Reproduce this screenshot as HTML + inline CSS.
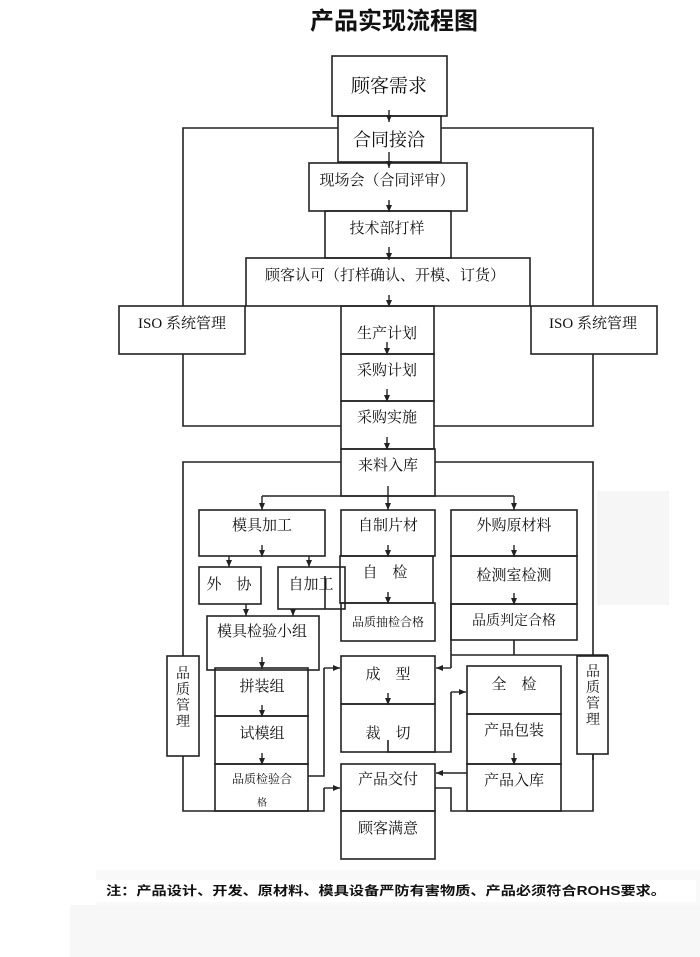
<!DOCTYPE html>
<html><head><meta charset="utf-8"><style>
html,body{margin:0;padding:0;background:#fff;}
svg{display:block;}
text{font-family:"Liberation Serif","Noto Serif CJK SC",serif;fill:#111;}
</style></head><body>
<svg width="700" height="957" viewBox="0 0 700 957" xmlns="http://www.w3.org/2000/svg">
<defs>
<marker id="a" markerWidth="8" markerHeight="8" refX="7" refY="4" orient="auto" markerUnits="userSpaceOnUse"><path d="M0,1 L7,4 L0,7 Z" fill="#222"/></marker>
</defs>
<rect x="597" y="491" width="72" height="114" fill="#f6f6f6"/>
<rect x="70" y="905" width="630" height="70" fill="#f7f7f7"/>
<rect x="96" y="870" width="604" height="35" fill="#f9f9f9"/>
<rect x="86" y="880" width="610" height="22" fill="#fff"/>
<text x="394" y="29" font-size="24" font-weight="bold" text-anchor="middle" style="font-family:'Liberation Sans','Noto Sans CJK SC',sans-serif">产品实现流程图</text>
<g fill="none" stroke="#222" stroke-width="1.6">
<!-- boxes -->
<rect x="332" y="56" width="115" height="60"/>
<rect x="338" y="116" width="103" height="46"/>
<rect x="309" y="163" width="158" height="48"/>
<rect x="325" y="211" width="126" height="47"/>
<rect x="246" y="258" width="284" height="48"/>
<rect x="119" y="306" width="126" height="48"/>
<rect x="531" y="306" width="126" height="48"/>
<rect x="341" y="306" width="93" height="48"/>
<rect x="341" y="354" width="93" height="47"/>
<rect x="341" y="401" width="93" height="48"/>
<rect x="341" y="449" width="94" height="47"/>
<rect x="199" y="510" width="126" height="46"/>
<rect x="341" y="510" width="94" height="46"/>
<rect x="340" y="556" width="93" height="47"/>
<rect x="341" y="603" width="94" height="38"/>
<rect x="451" y="510" width="126" height="46"/>
<rect x="451" y="556" width="126" height="48"/>
<rect x="451" y="604" width="126" height="36"/>
<rect x="199" y="567" width="62" height="37"/>
<rect x="278" y="567" width="67" height="42"/>
<rect x="207" y="616" width="112" height="54"/>
<rect x="215" y="668" width="93" height="48"/>
<rect x="215" y="716" width="93" height="48"/>
<rect x="215" y="764" width="93" height="47"/>
<rect x="341" y="656" width="94" height="48"/>
<rect x="341" y="704" width="94" height="48"/>
<rect x="467" y="666" width="94" height="48"/>
<rect x="467" y="714" width="94" height="50"/>
<rect x="467" y="764" width="94" height="47"/>
<rect x="341" y="764" width="94" height="47"/>
<rect x="341" y="811" width="94" height="48"/>
<rect x="167" y="656" width="32" height="100"/>
<rect x="577" y="656" width="31" height="98"/>
<!-- ISO loops -->
<polyline points="338,128 183,128 183,306"/>
<polyline points="441,128 593,128 593,306"/>
<polyline points="183,354 183,426 341,426"/>
<polyline points="593,354 593,426 434,426"/>
<!-- quality loops -->
<polyline points="341,462 183,462 183,656"/>
<polyline points="435,462 593,462 593,656"/>
<polyline points="183,756 183,811 324,811 324,788"/>
<polyline points="593,754 593,811 451,811 451,788 435,788"/>
<line x1="325" y1="576" x2="325" y2="609"/>
<polyline points="451,604 451,668"/>
<polyline points="451,655 608,655"/>
<line x1="514" y1="640" x2="514" y2="655"/>
<polyline points="308,776 324,776 324,668"/>
<polyline points="388,740 388,752 451,752 451,692"/>
<line x1="262" y1="496" x2="514" y2="496"/>
<line x1="593" y1="754" x2="593" y2="760"/>
</g>
<g stroke="#222" stroke-width="1.4" marker-end="url(#a)">
<line x1="389" y1="110" x2="389" y2="122"/>
<line x1="389" y1="152" x2="389" y2="168"/>
<line x1="389" y1="200" x2="389" y2="212"/>
<line x1="389" y1="247" x2="389" y2="260"/>
<line x1="389" y1="295" x2="389" y2="307"/>
<line x1="387" y1="342" x2="387" y2="355"/>
<line x1="387" y1="389" x2="387" y2="402"/>
<line x1="387" y1="437" x2="387" y2="450"/>
<line x1="388" y1="486" x2="388" y2="510"/>
<line x1="262" y1="496" x2="262" y2="510"/>
<line x1="514" y1="496" x2="514" y2="510"/>
<line x1="262" y1="545" x2="262" y2="557"/>
<line x1="229" y1="556" x2="229" y2="567"/>
<line x1="309" y1="556" x2="309" y2="567"/>
<line x1="388" y1="545" x2="388" y2="557"/>
<line x1="388" y1="592" x2="388" y2="604"/>
<line x1="514" y1="545" x2="514" y2="557"/>
<line x1="514" y1="593" x2="514" y2="605"/>
<line x1="246" y1="604" x2="246" y2="616"/>
<line x1="293" y1="609" x2="293" y2="616"/>
<line x1="262" y1="657" x2="262" y2="669"/>
<line x1="262" y1="705" x2="262" y2="717"/>
<line x1="262" y1="753" x2="262" y2="765"/>
<line x1="388" y1="693" x2="388" y2="705"/>
<line x1="514" y1="753" x2="514" y2="765"/>
<line x1="451" y1="668" x2="436" y2="668"/>
<line x1="324" y1="668" x2="340" y2="668"/>
<line x1="324" y1="788" x2="340" y2="788"/>
<line x1="451" y1="692" x2="466" y2="692"/>
<line x1="467" y1="773" x2="436" y2="773"/>
</g>
<g font-size="15" text-anchor="middle">
<text x="389" y="92" font-size="19">顾客需求</text>
<text x="389" y="146" font-size="18">合同接洽</text>
<text x="387" y="185">现场会（合同评审）</text>
<text x="387" y="233">技术部打样</text>
<text x="385" y="280">顾客认可（打样确认、开模、订货）</text>
<text x="182" y="328">ISO 系统管理</text>
<text x="593" y="328">ISO 系统管理</text>
<text x="387" y="338">生产计划</text>
<text x="387" y="375">采购计划</text>
<text x="387" y="422">采购实施</text>
<text x="388" y="470">来料入库</text>
<text x="262" y="530">模具加工</text>
<text x="388" y="530">自制片材</text>
<text x="514" y="530">外购原材料</text>
<text x="229" y="589">外　协</text>
<text x="311" y="589">自加工</text>
<text x="385" y="577">自　检</text>
<text x="388" y="626" font-size="12">品质抽检合格</text>
<text x="514" y="580">检测室检测</text>
<text x="514" y="625" font-size="14">品质判定合格</text>
<text x="262" y="636">模具检验小组</text>
<text x="262" y="691">拼装组</text>
<text x="262" y="738">试模组</text>
<text x="262" y="783" font-size="12">品质检验合</text>
<text x="262" y="806" font-size="10">格</text>
<text x="388" y="679">成　型</text>
<text x="388" y="738">裁　切</text>
<text x="514" y="689">全　检</text>
<text x="514" y="735">产品包装</text>
<text x="514" y="785">产品入库</text>
<text x="388" y="784">产品交付</text>
<text x="388" y="833">顾客满意</text>
</g>
<g font-size="14" text-anchor="middle">
<text x="183" y="678">品</text><text x="183" y="694">质</text><text x="183" y="710">管</text><text x="183" y="726">理</text>
<text x="593" y="676">品</text><text x="593" y="692">质</text><text x="593" y="708">管</text><text x="593" y="724">理</text>
</g>
<text x="106" y="895" font-size="12.5" font-weight="bold" style="font-family:'Liberation Sans','Noto Sans CJK SC',sans-serif" textLength="560" lengthAdjust="spacingAndGlyphs">注：产品设计、开发、原材料、模具设备严防有害物质、产品必须符合ROHS要求。</text>
</svg>
</body></html>
